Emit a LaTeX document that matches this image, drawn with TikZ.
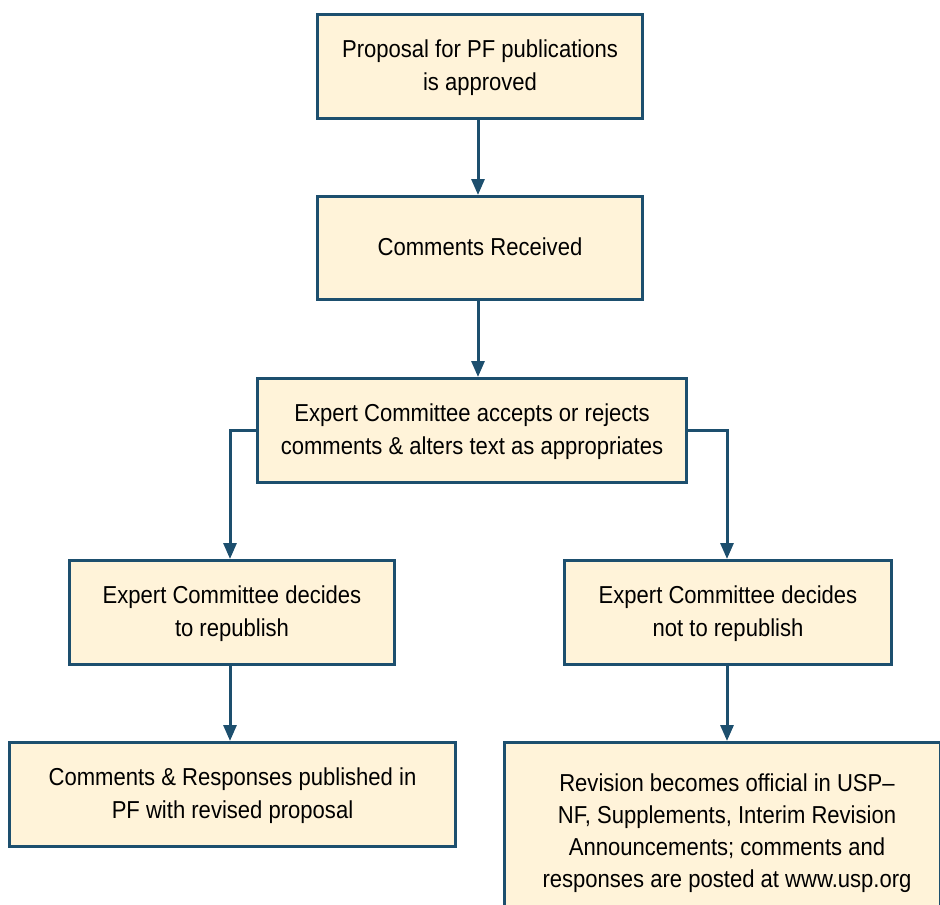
\documentclass[tikz,border=0pt]{standalone}
\usepackage{fontspec}
\setmainfont{Liberation Sans}[FakeStretch=0.9]
\usetikzlibrary{arrows.meta}
\definecolor{boxfill}{HTML}{FFF3D9}
\definecolor{boxline}{HTML}{1D4F6E}
\begin{document}
\begin{tikzpicture}[x=1pt,y=-1pt,
  flowbox/.style={draw=boxline,fill=boxfill,line width=3pt,rectangle,anchor=north west,inner sep=0pt,align=center,
    font=\fontsize{24.5}{33}\selectfont,text depth=2pt},
  conn/.style={draw=boxline,line width=3pt,-{Triangle[length=16pt,width=13pt]}}]
\useasboundingbox (0,0) rectangle (940,905);
\begin{scope}
\clip (0,0) rectangle (940,905);
\node[flowbox,minimum width=325pt,minimum height=104pt] (b1) at (316,13) {Proposal for PF publications\\is approved};
\node[flowbox,minimum width=325pt,minimum height=103pt] (b2) at (316,195) {Comments Received};
\node[flowbox,minimum width=429pt,minimum height=104pt] (b3) at (256,377) {Expert Committee accepts or rejects\\comments \& alters text as appropriates};
\node[flowbox,minimum width=325pt,minimum height=104pt] (b4) at (68,559) {Expert Committee decides\\to republish};
\node[flowbox,minimum width=327pt,minimum height=104pt] (b5) at (563,559) {Expert Committee decides\\not to republish};
\node[flowbox,minimum width=446pt,minimum height=104pt] (b6) at (8,741) {Comments \& Responses published in\\PF with revised proposal};
\node[flowbox,minimum width=436pt,minimum height=190pt,anchor=north west] (b7) at (503,741) {};
\node[font=\fontsize{24.5}{32}\selectfont,align=center,anchor=north,inner sep=0pt] (t7) at (727,774) {Revision becomes official in USP–\\NF, Supplements, Interim Revision\\Announcements; comments and\\responses are posted at www.usp.org};
\end{scope}
\coordinate (l1) at (230,430);
\coordinate (r1) at (727,430);
\draw[conn] (b1.south -| 478,0) -- (b2.north -| 478,0);
\draw[conn] (b2.south -| 478,0) -- (b3.north -| 478,0);
\draw[conn] (b3.west |- l1) -- (l1) -- (b4.north -| l1);
\draw[conn] (b3.east |- r1) -- (r1) -- (b5.north -| r1);
\draw[conn] (b4.south -| 230,0) -- (b6.north -| 230,0);
\draw[conn] (b5.south -| 727,0) -- (b7.north -| 727,0);
\end{tikzpicture}
\end{document}
